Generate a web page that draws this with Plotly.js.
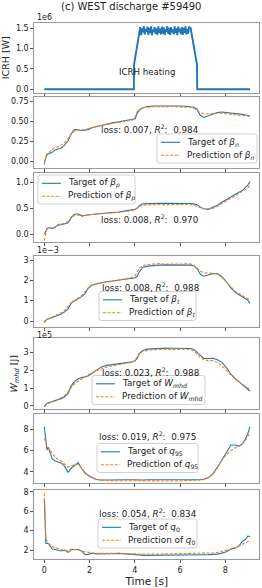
<!DOCTYPE html>
<html>
<head>
<meta charset="utf-8">
<script src="https://cdn.plot.ly/plotly-3.0.1.min.js"></script>
<style>html,body{margin:0;padding:0;background:#fff;}#chart{width:262px;height:588px;}</style>
</head>
<body>
<div id="chart"></div>
<script>
// ---------- DATA ----------
// ICRH power (units of 1e6 W)
const icrhTime = [0, 3.96, 3.965, 4.18,
  4.20,4.24,4.28,4.32,4.36,4.40,4.44,4.48,4.52,4.56,4.60,4.64,4.68,4.72,4.76,4.80,4.84,4.88,4.92,4.96,
  5.00,5.04,5.08,5.12,5.16,5.20,5.24,5.28,5.32,5.36,5.40,5.44,5.48,5.52,5.56,5.60,5.64,5.68,5.72,5.76,
  5.80,5.84,5.88,5.92,5.96,6.00,6.04,6.08,6.12,6.16,6.20,6.24,6.28,6.32,6.36,6.40,6.44,
  6.47, 6.75, 6.76, 9.09];
const icrhPower = [0, 0, 0.6, 1.35,
  1.36,1.53,1.33,1.50,1.40,1.55,1.35,1.48,1.42,1.54,
  1.34,1.51,1.38,1.55,1.33,1.47,1.41,1.53,1.36,1.50,
  1.34,1.55,1.39,1.49,1.35,1.54,1.37,1.52,1.33,1.48,
  1.42,1.55,1.36,1.51,1.34,1.53,1.40,1.47,1.35,1.55,
  1.38,1.50,1.33,1.54,1.41,1.49,1.36,1.53,1.34,1.51,
  1.39,1.55,1.35,1.48,1.37,1.54,1.50,
  1.50, 0.6, 0, 0];

const time = [0,0.07,0.12,0.18,0.25,0.35,0.47,0.6,0.75,0.9,
  1.05,1.2,1.35,1.5,1.65,1.8,1.95,2.1,2.3,2.5,
  2.75,3.0,3.3,3.6,3.9,4.02,4.1,4.2,4.35,4.55,
  4.8,5.1,5.4,5.7,6.0,6.25,6.45,6.6,6.75,6.9,
  7.05,7.25,7.45,7.65,7.85,8.05,8.25,8.45,8.6,8.75,
  8.9,9.0,9.09];

const betaNTarget = [-0.02,0.06,0.08,0.09,0.097,0.11,0.14,0.15,0.165,0.2,
  0.255,0.35,0.40,0.395,0.385,0.39,0.40,0.42,0.435,0.447,
  0.468,0.482,0.495,0.508,0.525,0.535,0.6,0.645,0.67,0.688,
  0.695,0.697,0.695,0.695,0.695,0.693,0.69,0.68,0.655,0.575,
  0.55,0.57,0.595,0.612,0.62,0.615,0.603,0.597,0.595,0.59,
  0.582,0.577,0.572];
const betaNPred = [-0.05,0.07,0.09,0.11,0.12,0.15,0.17,0.18,0.2,0.23,
  0.28,0.35,0.38,0.39,0.39,0.395,0.41,0.425,0.44,0.45,
  0.465,0.48,0.49,0.505,0.52,0.56,0.62,0.65,0.675,0.68,
  0.685,0.688,0.684,0.69,0.68,0.685,0.68,0.665,0.64,0.61,
  0.6,0.595,0.6,0.6,0.605,0.595,0.59,0.583,0.585,0.578,
  0.575,0.57,0.565];

const betaPTarget = [0.0,0.07,0.11,0.13,0.125,0.115,0.13,0.175,0.185,0.2,
  0.22,0.33,0.39,0.39,0.36,0.365,0.375,0.385,0.395,0.4,
  0.41,0.415,0.43,0.45,0.47,0.48,0.5,0.55,0.585,0.592,
  0.595,0.597,0.595,0.597,0.595,0.595,0.592,0.585,0.57,0.52,
  0.49,0.48,0.515,0.56,0.615,0.67,0.73,0.78,0.81,0.84,
  0.9,0.95,1.01];
const betaPPred = [-0.12,0.04,0.1,0.12,0.12,0.125,0.14,0.19,0.2,0.21,
  0.25,0.33,0.36,0.37,0.345,0.36,0.375,0.38,0.39,0.395,
  0.4,0.41,0.42,0.44,0.455,0.48,0.51,0.54,0.56,0.565,
  0.57,0.572,0.57,0.575,0.57,0.575,0.57,0.56,0.54,0.51,
  0.49,0.49,0.5,0.54,0.59,0.64,0.7,0.75,0.78,0.81,
  0.86,0.9,0.935];

// beta_t in units of 1e-3
const betaTTarget = [-0.03,0.05,0.08,0.1,0.13,0.17,0.22,0.27,0.35,0.45,
  0.6,0.9,1.0,1.1,1.2,1.35,1.62,1.76,1.84,1.88,
  1.93,1.96,2.0,2.05,2.1,2.13,2.2,2.42,2.63,2.7,
  2.73,2.75,2.76,2.76,2.75,2.76,2.75,2.72,2.58,2.3,
  2.2,2.26,2.34,2.33,2.18,1.93,1.62,1.4,1.3,1.23,
  1.12,1.02,0.87];
const betaTPred = [-0.08,0.06,0.1,0.12,0.15,0.2,0.25,0.33,0.4,0.52,
  0.7,0.92,1.02,1.12,1.25,1.45,1.65,1.78,1.84,1.87,
  1.9,1.95,2.0,2.06,2.15,2.25,2.4,2.6,2.72,2.78,
  2.8,2.82,2.8,2.8,2.82,2.8,2.81,2.75,2.6,2.45,
  2.38,2.35,2.36,2.3,2.15,1.92,1.65,1.45,1.35,1.27,
  1.17,1.1,1.02];

// W_mhd in units of 1e5 J
const wmhdTarget = [-0.02,0.08,0.13,0.17,0.2,0.22,0.26,0.32,0.4,0.5,
  0.7,1.14,1.38,1.52,1.6,1.63,1.7,1.82,2.0,2.18,
  2.28,2.32,2.38,2.44,2.48,2.55,2.66,2.95,3.12,3.2,
  3.23,3.25,3.26,3.25,3.25,3.26,3.24,3.2,3.02,2.82,
  2.68,2.67,2.68,2.6,2.45,2.15,1.78,1.52,1.35,1.18,
  1.03,0.93,0.83];
const wmhdPred = [-0.08,0.05,0.1,0.13,0.16,0.2,0.25,0.35,0.45,0.58,
  0.8,1.05,1.25,1.4,1.52,1.62,1.75,1.86,1.98,2.08,
  2.18,2.25,2.32,2.4,2.47,2.58,2.75,2.98,3.08,3.13,
  3.17,3.19,3.18,3.2,3.19,3.2,3.18,3.1,2.9,2.72,
  2.6,2.55,2.55,2.45,2.25,2.0,1.7,1.48,1.35,1.2,
  1.07,1.0,0.93];

const q95Target = [8.22,6.66,6.03,6.28,5.88,5.2,5.03,4.92,4.8,4.5,
  3.95,4.35,4.6,4.85,4.3,3.9,3.65,3.45,3.3,3.22,
  3.22,3.24,3.22,3.25,3.24,3.22,3.2,3.2,3.22,3.24,
  3.22,3.24,3.25,3.24,3.25,3.24,3.23,3.24,3.25,3.27,
  3.3,3.45,3.8,4.4,5.1,5.72,6.5,6.5,6.38,6.6,
  7.1,7.6,8.22];
const q95Pred = [7.12,6.66,6.4,6.2,6.0,5.7,5.4,5.15,5.0,4.7,
  4.45,4.55,4.7,4.65,4.4,3.85,3.6,3.4,3.25,3.2,
  3.17,3.16,3.15,3.15,3.16,3.16,3.14,3.13,3.15,3.14,
  3.13,3.15,3.14,3.13,3.15,3.16,3.17,3.18,3.2,3.22,
  3.28,3.4,3.75,4.4,5.1,5.6,6.0,6.25,6.4,6.6,
  6.95,7.3,7.66];

const q0Target = [7.3,2.7,2.68,2.65,2.45,2.1,2.05,1.95,1.9,2.0,
  1.76,2.05,2.08,2.05,1.9,1.52,1.55,1.66,1.6,1.59,
  1.6,1.62,1.65,1.62,1.6,1.58,1.55,1.5,1.45,1.45,
  1.46,1.45,1.45,1.47,1.48,1.49,1.48,1.5,1.49,1.5,
  1.52,1.53,1.54,1.58,1.68,1.83,2.1,2.2,2.4,2.88,
  3.1,3.45,3.37];
const q0Pred = [7.83,3.2,2.9,2.7,2.55,2.35,2.25,2.15,2.05,2.0,
  1.9,2.1,2.05,2.0,1.9,1.82,1.75,1.7,1.67,1.65,
  1.64,1.65,1.66,1.66,1.65,1.63,1.6,1.58,1.6,1.58,
  1.6,1.59,1.6,1.62,1.63,1.64,1.65,1.64,1.66,1.66,
  1.67,1.68,1.7,1.75,1.85,1.95,2.1,2.25,2.4,2.55,
  2.75,2.9,3.03];

const quantityLabels = ['<i>β<sub>n</sub></i>','<i>β<sub>p</sub></i>','<i>β<sub>t</sub></i>',
  '<i>W<sub>mhd</sub></i>','<i>q</i><sub>95</sub>','<i>q</i><sub>0</sub>'];
const lossValues = ['0.007','0.008','0.008','0.023','0.019','0.054'];
const r2Values = ['0.984','0.970','0.988','0.988','0.975','0.834'];
const xTicks = [0,2,4,6,8];

// ---------- LAYOUT HELPERS ----------
const W = 262, H = 588;
const FONT = 'DejaVu Sans, sans-serif';
const BLUE = '#1f77b4', ORANGE = '#ff7f0e';
const TXT = '#222';
const PRED_DASH = '3px,1.6px';
const px = v => v / W;
const py = v => (H - v) / H;

// panel boxes [top, bottom] in pixels
const boxes = [[22.7,92.7],[96.7,167.7],[173.3,242.3],[255.7,326.7],[338.3,409.3],[414,482.7],[490,559]];
const yRanges = [[-0.0836,1.6376],[-0.0847,0.8129],[-0.154,1.173],[-0.28,3.212],[-0.204,3.814],[2.97,9.405],[1.076,8.175]];
const yDticks = [0.5,0.25,0.5,1,1,2,2];
const yFormats = ['.1f','.2f','.1f','d','d','d','d'];
// legend boxes: [left, top, width] in pixels
const legendBoxes = [[157,134,100],[38,175,97],[99,291.5,97],[92,375.5,113],[97,443.5,101],[98,519,99]];
const annPos = [[150,129.3],[150,219.3],[150,287.3],[150,371.7],[147,436],[148,512.7]];

const series = [[betaNTarget,betaNPred],[betaPTarget,betaPPred],[betaTTarget,betaTPred],
  [wmhdTarget,wmhdPred],[q95Target,q95Pred],[q0Target,q0Pred]];

const traces = [];
traces.push({x: icrhTime, y: icrhPower, xaxis:'x', yaxis:'y', type:'scatter', mode:'lines',
  line:{color:BLUE, width:1.9}, showlegend:false, hoverinfo:'skip'});

series.forEach((s, i) => {
  const n = i + 2;
  traces.push({x: time, y: s[0], xaxis:'x'+n, yaxis:'y'+n, type:'scatter', mode:'lines',
    name:'Target of ' + quantityLabels[i], showlegend:false, line:{color:BLUE, width:1.1}});
  traces.push({x: time, y: s[1], xaxis:'x'+n, yaxis:'y'+n, type:'scatter', mode:'lines',
    name:'Prediction of ' + quantityLabels[i], showlegend:false, line:{color:ORANGE, width:1.1, dash:PRED_DASH}});
});

const axBase = {showline:true, mirror:true, linecolor:'#999', linewidth:1, ticks:'outside', ticklen:3,
  tickcolor:'#555', tickwidth:1, tickfont:{size:8, color:TXT, family:FONT}, showgrid:false, zeroline:false};

const layout = {
  width: W, height: H, margin:{l:0,r:0,t:0,b:0}, paper_bgcolor:'#fff', plot_bgcolor:'#fff',
  font:{family:FONT, color:TXT}, showlegend:false, annotations:[], shapes:[]
};

for (let k = 0; k < 7; k++) {
  const n = k + 1;
  const xn = n === 1 ? 'xaxis' : 'xaxis' + n;
  const yn = n === 1 ? 'yaxis' : 'yaxis' + n;
  layout[xn] = Object.assign({}, axBase, {
    domain:[px(34.3), px(259.3)], range:[-0.442, 9.503], tickvals: xTicks,
    anchor: n === 1 ? 'y' : 'y' + n, showticklabels: n === 7
  });
  layout[yn] = Object.assign({}, axBase, {
    domain:[py(boxes[k][1]), py(boxes[k][0])], range: yRanges[k], dtick: yDticks[k], tick0: 0,
    tickformat: yFormats[k], anchor: n === 1 ? 'x' : 'x' + n
  });
}
layout.xaxis7.title = {text:'Time [s]', font:{size:10.5, family:FONT, color:TXT}, standoff:2};
layout.yaxis.title = {text:'ICRH [W]', font:{size:9.5, family:FONT, color:TXT}, standoff:4};
layout.yaxis5.title = {text:'<i>W<sub>mhd</sub></i> [J]', font:{size:9.5, family:FONT, color:TXT}, standoff:4};

// rounded rectangle path in paper coordinates
function roundRect(L, T, Wd, Hh, r) {
  const x0 = px(L), x1 = px(L + Wd), y0 = py(T), y1 = py(T + Hh);
  const rx = r / W, ry = r / H;
  return `M${x0+rx},${y0} L${x1-rx},${y0} Q${x1},${y0} ${x1},${y0-ry} L${x1},${y1+ry} Q${x1},${y1} ${x1-rx},${y1} ` +
         `L${x0+rx},${y1} Q${x0},${y1} ${x0},${y1+ry} L${x0},${y0-ry} Q${x0},${y0} ${x0+rx},${y0} Z`;
}

// legends (frame, key lines, labels) per panel
legendBoxes.forEach((b, i) => {
  const [L, T, Wd] = b;
  const Hh = 29;
  layout.shapes.push({type:'path', xref:'paper', yref:'paper', path: roundRect(L, T, Wd, Hh, 2.5),
    fillcolor:'rgba(255,255,255,0.8)', line:{color:'#d0d0d0', width:1}, layer:'above'});
  const rows = [[T+8.3, BLUE, 'solid', 'Target of '], [T+21.3, ORANGE, PRED_DASH, 'Prediction of ']];
  rows.forEach(r => {
    layout.shapes.push({type:'line', xref:'paper', yref:'paper', x0:px(L+4), x1:px(L+23), y0:py(r[0]), y1:py(r[0]),
      line:{color:r[1], width:1.1, dash:r[2]}, layer:'above'});
    layout.annotations.push({xref:'paper', yref:'paper', x:px(L+27.5), y:py(r[0]), xanchor:'left', yanchor:'middle',
      showarrow:false, text:r[3] + quantityLabels[i], font:{size:8.8, family:FONT, color:TXT}});
  });
});

annPos.forEach((p, i) => {
  layout.annotations.push({xref:'paper', yref:'paper', x: px(p[0]), y: py(p[1]), xanchor:'center', yanchor:'middle',
    showarrow:false, text:'loss: ' + lossValues[i] + ', <i>R</i><sup>2</sup>:  ' + r2Values[i],
    font:{size:8.8, family:FONT, color:TXT}});
});

layout.annotations.push({xref:'paper', yref:'paper', x: px(131), y: py(6.5), xanchor:'center', yanchor:'middle',
  showarrow:false, text:'(c) WEST discharge #59490', font:{size:10, family:FONT, color:TXT}});
layout.annotations.push({xref:'paper', yref:'paper', x: px(147), y: py(71.7), xanchor:'center', yanchor:'middle',
  showarrow:false, text:'ICRH heating', font:{size:8.6, family:FONT, color:TXT}});
[['1e6',17.3],['1e\u22123',250.5],['1e5',335]].forEach(o => {
  layout.annotations.push({xref:'paper', yref:'paper', x: px(34.5), y: py(o[1]), xanchor:'left', yanchor:'middle',
    showarrow:false, text:o[0], font:{size:8, family:FONT, color:TXT}});
});

Plotly.newPlot('chart', traces, layout, {staticPlot:true, displayModeBar:false});
</script>
</body>
</html>
